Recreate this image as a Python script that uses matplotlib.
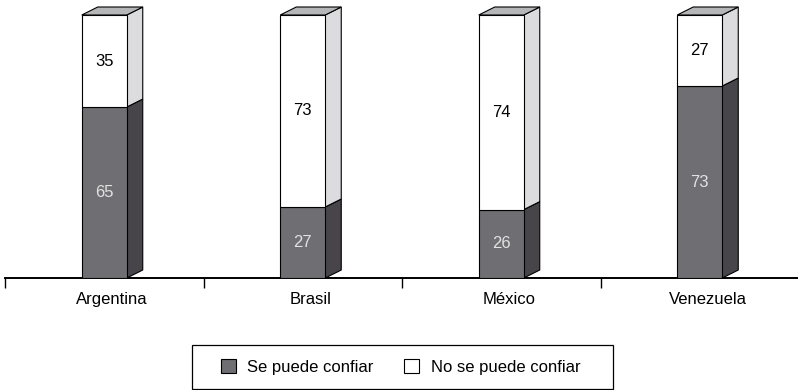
import matplotlib

matplotlib.use("Agg")
import matplotlib.pyplot as plt  # noqa: E402
from matplotlib.patches import Patch, Polygon, Rectangle  # noqa: E402
import numpy as np  # noqa: E402

plt.rcParams["font.family"] = ["Liberation Sans Narrow", "Liberation Sans", "DejaVu Sans"]

countries = ["Argentina", "Brasil", "México", "Venezuela"]
trust = [65, 27, 26, 73]        # Se puede confiar
no_trust = [35, 73, 74, 27]     # No se puede confiar
series_labels = ["Se puede confiar", "No se puede confiar"]

W, H = 798, 390
PX_PER_CAT = 198.5
BASE_Y = 278          # pixel row of the baseline (from top)
TOP_Y = 15            # pixel row of 100 %
BAR_W = 45 / PX_PER_CAT
DEPTH_PX = (16, 8)

FRONT = {"dark": "#6f6e73", "light": "#ffffff"}
SIDE = {"dark": "#47454a", "light": "#dcdcde"}
TOP = "#b5b6b8"

fig = plt.figure(figsize=(W / 100, H / 100), dpi=100)
ax = fig.add_axes([5 / W, (H - BASE_Y) / H, 793 / W, (BASE_Y - TOP_Y) / H])
ax.set_xlim(-0.5, -0.5 + 793 / PX_PER_CAT)
ax.set_ylim(0, 100)

# depth of the fake 3D faces, converted from pixels to data units
dx = DEPTH_PX[0] / PX_PER_CAT
dy = DEPTH_PX[1] / (BASE_Y - TOP_Y) * 100

x = np.arange(len(countries))
ax.bar(x, trust, BAR_W, color=FRONT["dark"], edgecolor="black", linewidth=0.8, zorder=3)
ax.bar(x, no_trust, BAR_W, bottom=trust, color=FRONT["light"], edgecolor="black",
       linewidth=0.8, zorder=3)

for xi, lo, hi in zip(x, trust, no_trust):
    x1 = xi + BAR_W / 2
    x0 = xi - BAR_W / 2
    top = lo + hi
    for y0, y1, key in ((0, lo, "dark"), (lo, top, "light")):
        ax.add_patch(Polygon([(x1, y0), (x1 + dx, y0 + dy), (x1 + dx, y1 + dy), (x1, y1)],
                             closed=True, facecolor=SIDE[key], edgecolor="black",
                             linewidth=0.8, zorder=2, clip_on=False))
    ax.add_patch(Polygon([(x0, top), (x0 + dx, top + dy), (x1 + dx, top + dy), (x1, top)],
                         closed=True, facecolor=TOP, edgecolor="black",
                         linewidth=0.8, zorder=2, clip_on=False))
    ax.text(xi, lo / 2, f"{lo}", ha="center", va="center", fontsize=12,
            color="#e2e2e2", zorder=4)
    ax.text(xi, lo + hi / 2, f"{hi}", ha="center", va="center", fontsize=12,
            color="black", zorder=4)

for s in ("left", "right", "top"):
    ax.spines[s].set_visible(False)
ax.spines["bottom"].set_linewidth(1.4)
ax.set_yticks([])
ax.set_xticks(np.arange(len(countries)) - 0.5)
ax.set_xticklabels([])
ax.tick_params(axis="x", which="major", direction="out", length=7.5, width=1.0)
ax.set_xticks(x + 0.04, minor=True)
ax.set_xticklabels(countries, minor=True, fontsize=12)
ax.tick_params(axis="x", which="minor", length=0, pad=10)

handles = [Patch(facecolor=FRONT["dark"], edgecolor="black", linewidth=0.8),
           Patch(facecolor=FRONT["light"], edgecolor="black", linewidth=0.8)]
fig.legend(handles, series_labels, loc="center", bbox_to_anchor=(400.5 / W, 1 - 367 / H),
           ncol=2, frameon=False, fontsize=12, handlelength=0.9, handleheight=0.9,
           handletextpad=0.7, columnspacing=1.8)
fig.add_artist(Rectangle((192 / W, 1 - 389 / H), 421 / W, 44 / H, transform=fig.transFigure,
                         fill=False, edgecolor="black", linewidth=0.9))

fig.savefig("out.png", dpi=100)
